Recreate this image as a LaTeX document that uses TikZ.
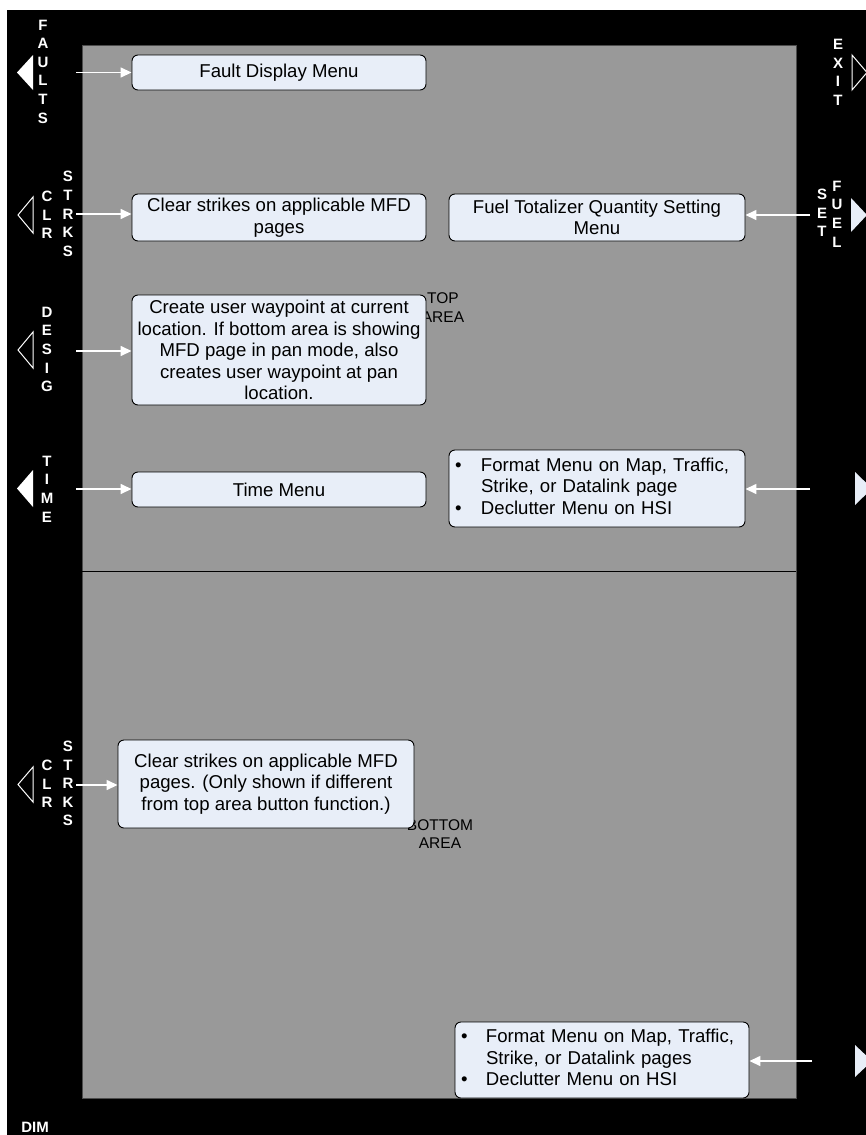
\documentclass[tikz,border=0pt]{standalone}
\usepackage{fontspec}
\setmainfont{Liberation Sans}
\usetikzlibrary{positioning,arrows.meta,calc}

\definecolor{panelgray}{RGB}{153,153,153}
\definecolor{boxfill}{RGB}{232,238,248}

\begin{document}
\begin{tikzpicture}[x=1pt,y=-1pt,
  panel/.style={rectangle,draw=black!70,line width=0.8pt,fill=panelgray,inner sep=0pt},
  menubox/.style={rectangle,draw=black,line width=0.9pt,rounded corners=6pt,fill=boxfill,inner sep=2pt,align=center,font=\fontsize{18.6}{21.5}\selectfont},
  keylabel/.style={text=white,font=\fontsize{15}{18.6}\selectfont\bfseries,align=center,inner sep=0pt},
  areatext/.style={font=\fontsize{15.5}{18.8}\selectfont,align=center,inner sep=0pt},
  maps/.style={-{Triangle[length=11pt,width=10pt]},white,line width=1.5pt},
  softkey/.style={draw=white,line width=1pt,line join=miter},
]
\useasboundingbox (0,0) rectangle (866,1135);
\fill[white] (0,0) rectangle (866,1135);

% ==== BEZEL AND SCREEN ====
\fill[black] (7,10) rectangle (866,1135);
\node[panel,minimum width=714pt,minimum height=1053pt] (screen) at (439,571.5) {};
\draw[black,line width=0.8pt] (screen.west|-0,571) -- (screen.east|-0,571);

\node[areatext] (topA) at (443,307.5) {TOP\\AREA};
\node[areatext] (botA) at (440,834) {BOTTOM\\AREA};

% ==== SOFT KEYS (left) ====
\fill[white] (17,72.5) -- (33,55) -- (33,90) -- cycle;
\draw[softkey] (18,215) -- (33,197) -- (33,233) -- cycle;
\draw[softkey] (18,350) -- (33,332) -- (33,368) -- cycle;
\fill[white] (17,488.5) -- (33,470) -- (33,507) -- cycle;
\draw[softkey] (18,784.5) -- (33,767) -- (33,802) -- cycle;

% ==== SOFT KEYS (right) ====
\draw[softkey] (852,55) -- (867,72.5) -- (852,90) -- cycle;
\fill[boxfill] (851,198) -- (867,215) -- (851,232) -- cycle;
\fill[boxfill] (855,472) -- (872,488.5) -- (855,505) -- cycle;
\fill[boxfill] (855,1045) -- (872,1061) -- (855,1077) -- cycle;

% key labels
\node[keylabel] (faultsL) at (43,71.5) {F\\A\\U\\L\\T\\S};
\node[keylabel] (clrL) at (47,215) {C\\L\\R};
\node[keylabel] (strksL) at (68,214) {S\\T\\R\\K\\S};
\node[keylabel] (desigL) at (47,349.5) {D\\E\\S\\I\\G};
\node[keylabel] (timeL) at (47,489) {T\\I\\M\\E};
\node[keylabel] (clrbL) at (47,784) {C\\L\\R};
\node[keylabel] (strksbL) at (68,783.5) {S\\T\\R\\K\\S};
\node[keylabel] (exitL) at (838,72.5) {E\\X\\I\\T};
\node[keylabel] (setL) at (822,213) {S\\E\\T};
\node[keylabel] (fuelL) at (837,214) {F\\U\\E\\L};
\node[keylabel,anchor=base] (dimL) at (35,1132) {DIM};

% ==== MENU BOXES ====
\node[menubox,minimum width=294pt,minimum height=35pt] (fault) at (279,72.5) {Fault Display Menu};
\node[menubox,minimum width=294pt,minimum height=47pt] (clrtop) at (279,217.5) {Clear strikes on applicable MFD\\pages};
\node[menubox,minimum width=296pt,minimum height=47pt] (fuel) at (597,217.5) {Fuel Totalizer Quantity Setting\\Menu};
\node[menubox,minimum width=294pt,minimum height=110pt] (desig) at (279,350) {Create user waypoint at current\\location. If bottom area is showing\\MFD page in pan mode, also\\creates user waypoint at pan\\location.};
\node[menubox,minimum width=294pt,minimum height=35pt] (time) at (279,489.5) {Time Menu};
\node[menubox,text width=292pt,align=left,minimum height=77pt] (fmttop) at (597,488.5) {%
  \begin{tabular}{@{\hspace{4pt}}p{26pt}@{}l@{}}
  \textbullet & Format Menu on Map, Traffic,\\
   & Strike, or Datalink page\\
  \textbullet & Declutter Menu on HSI
  \end{tabular}};
\node[menubox,minimum width=296pt,minimum height=88pt] (clrbot) at (266,784) {Clear strikes on applicable MFD\\pages. (Only shown if different\\from top area button function.)};
\node[menubox,text width=290pt,align=left,minimum height=76pt] (fmtbot) at (602,1060) {%
  \begin{tabular}{@{\hspace{4pt}}p{25pt}@{}l@{}}
  \textbullet & Format Menu on Map, Traffic,\\
   & Strike, or Datalink pages\\
  \textbullet & Declutter Menu on HSI
  \end{tabular}};

% ==== KEY ARROWS ====
\coordinate (faultsK) at (76,72.5);
\coordinate (clrK) at (76,214);
\coordinate (desigK) at (76,351);
\coordinate (timeK) at (76,489);
\coordinate (clrbK) at (76,785);
\coordinate (fuelK) at (810,215);
\coordinate (fmtK) at (810,489);
\coordinate (fmtbK) at (812,1061);

\draw[maps] (faultsK) -- (faultsK-|fault.west);
\draw[maps] (clrK) -- (clrK-|clrtop.west);
\draw[maps] (desigK) -- (desigK-|desig.west);
\draw[maps] (timeK) -- (timeK-|time.west);
\draw[maps] (clrbK) -- (clrbK-|clrbot.west);
\draw[maps] (fuelK) -- (fuelK-|fuel.east);
\draw[maps] (fmtK) -- (fmtK-|fmttop.east);
\draw[maps] (fmtbK) -- (fmtbK-|fmtbot.east);

\end{tikzpicture}
\end{document}
